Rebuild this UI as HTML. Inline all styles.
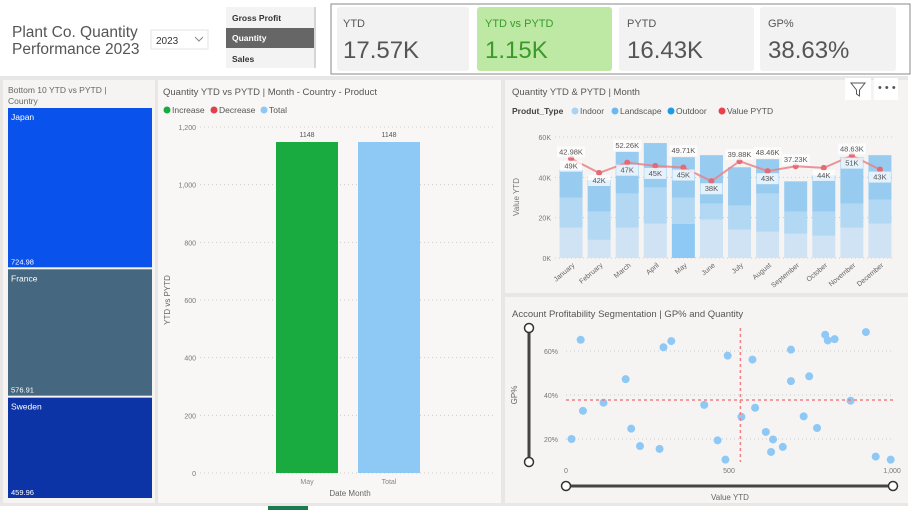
<!DOCTYPE html>
<html><head><meta charset="utf-8"><style>
body{margin:0;width:920px;height:510px;overflow:hidden;background:#fff;font-family:"Liberation Sans",sans-serif}
svg{display:block}
text{font-family:"Liberation Sans",sans-serif}
</style></head><body>
<svg id="s" width="920" height="510" viewBox="0 0 920 510">
<rect x="0" y="0" width="920" height="510" fill="#ffffff"/>
<rect x="0" y="76" width="908" height="430" fill="#e9e7e5"/>
<text x="12" y="37" font-size="15.5" fill="#555">Plant Co. Quantity</text>
<text x="12" y="54" font-size="15.5" fill="#555">Performance 2023</text>
<g>
<rect x="151" y="30" width="57" height="19" fill="#fff" stroke="#e3e3e3"/>
<text x="156" y="44" font-size="10" fill="#333">2023</text>
<path d="M195 37 l4 4 l4 -4" fill="none" stroke="#888"/>
</g>
<g>
<rect x="226" y="7" width="90" height="61" fill="#f3f3f3"/>
<line x1="315" y1="7" x2="315" y2="68" stroke="#ccc" stroke-width="1.5"/>
<text x="232" y="21" font-size="8.5" font-weight="bold" fill="#333">Gross Profit</text>
<rect x="226" y="28" width="88" height="20" fill="#666"/>
<text x="232" y="41" font-size="8.5" font-weight="bold" fill="#fff">Quantity</text>
<text x="232" y="62" font-size="8.5" font-weight="bold" fill="#333">Sales</text>
</g>
<g>
<rect x="331" y="4" width="579" height="70" fill="none" stroke="#888" stroke-width="1"/>
<rect x="337" y="7" width="132" height="64" rx="3" fill="#f2f2f2"/>
<text x="343" y="27" font-size="11" fill="#555">YTD</text>
<text x="343" y="58" font-size="24" fill="#555">17.57K</text>
<rect x="477" y="7" width="135" height="64" rx="3" fill="#bde9a5"/>
<text x="485" y="27" font-size="11" fill="#3a9a2a">YTD vs PYTD</text>
<text x="485" y="58" font-size="24" fill="#3a9a2a">1.15K</text>
<rect x="619" y="7" width="135" height="64" rx="3" fill="#f2f2f2"/>
<text x="627" y="27" font-size="11" fill="#555">PYTD</text>
<text x="627" y="58" font-size="24" fill="#555">16.43K</text>
<rect x="760" y="7" width="136" height="64" rx="3" fill="#f2f2f2"/>
<text x="768" y="27" font-size="11" fill="#555">GP%</text>
<text x="768" y="58" font-size="24" fill="#555">38.63%</text>
</g>
<!-- treemap panel -->
<rect x="3" y="80" width="152" height="423" fill="#f5f4f3"/>
<text x="8" y="93" font-size="8.5" fill="#666">Bottom 10 YTD vs PYTD |</text>
<text x="8" y="104" font-size="8.5" fill="#666">Country</text>
<g id="tree"></g>
<!-- waterfall panel -->
<rect x="158" y="80" width="343" height="423" fill="#f8f7f6"/>
<text x="163" y="95" font-size="9.5" fill="#555">Quantity YTD vs PYTD | Month - Country - Product</text>
<g font-size="8.5" fill="#555">
<circle cx="167" cy="110" r="3.5" fill="#1aab40"/><text x="172" y="113">Increase</text>
<circle cx="214" cy="110" r="3.5" fill="#e0404c"/><text x="219" y="113">Decrease</text>
<circle cx="264" cy="110" r="3.5" fill="#8ec8f5"/><text x="269" y="113">Total</text>
</g>
<g id="wf"></g>
<!-- combo panel -->
<rect x="505" y="80" width="403" height="213" fill="#f5f4f3"/>
<text x="512" y="95" font-size="9.5" fill="#555">Quantity YTD &amp; PYTD | Month</text>
<g><rect x="845" y="78" width="26" height="22" fill="#fff"/><path d="M851 83 h14 l-5.5 7 v6 l-3 -2 v-4 z" fill="none" stroke="#555"/></g>
<g><rect x="874" y="78" width="24" height="22" fill="#fff"/><text x="878" y="91" font-size="11" fill="#555">• • •</text></g>
<g font-size="8.5" fill="#555">
<text x="512" y="114" font-weight="bold" fill="#444">Produt_Type</text>
<circle cx="575" cy="111" r="3.5" fill="#a8d3f5"/><text x="580" y="114">Indoor</text>
<circle cx="615" cy="111" r="3.5" fill="#6bb9f0"/><text x="620" y="114">Landscape</text>
<circle cx="671" cy="111" r="3.5" fill="#1e9be8"/><text x="676" y="114">Outdoor</text>
<circle cx="722" cy="111" r="3.5" fill="#e8424c"/><text x="727" y="114">Value PYTD</text>
</g>
<g id="combo"></g>
<!-- scatter panel -->
<rect x="505" y="297" width="403" height="206" fill="#f5f4f3"/>
<text x="512" y="317" font-size="9.5" fill="#555">Account Profitability Segmentation | GP% and Quantity</text>
<g id="sc"></g>
<rect x="268" y="506" width="40" height="4" fill="#1b7a4e"/>
</svg>
<script>
const NS='http://www.w3.org/2000/svg';
function mk(p,t,a,txt){const e=document.createElementNS(NS,t);for(const k in a)e.setAttribute(k,a[k]);if(txt!==undefined)e.textContent=txt;p.appendChild(e);return e;}

// ---------- Treemap ----------
const treeCountries=['Japan','France','Sweden'];
const treeValues=[724.98,576.91,459.96];
const treeColors=['#0a52ec','#45677f','#0d34a6'];
{
const g=document.getElementById('tree');
const top=108,bottom=500,total=treeValues.reduce((a,b)=>a+b,0);
let y=top;
treeValues.forEach((v,i)=>{
  const h=(bottom-top)*v/total;
  const r=mk(g,'rect',{x:8,y:y,width:144,height:h-2,fill:treeColors[i]});
  
  
  const t=mk(g,'text',{x:11,y:y+12,'font-size':8.5,fill:'#fff'},treeCountries[i]);
  
  
  const t2=mk(g,'text',{x:11,y:y+h-5,'font-size':7.5,fill:'#fff'},treeValues[i].toFixed(2));
  
  
  y+=h;
});
}

// ---------- Waterfall ----------
const wfCategories=['May','Total'];
const wfValues=[1148,1148];
const wfColors=['#1aab40','#8ec8f5'];
const wfTicks=[0,200,400,600,800,1000,1200];
{
const g=document.getElementById('wf');
const y0=473,y1=127,max=1200,xL=200,xR=495;
const Y=v=>y0-(v/max)*(y0-y1);
wfTicks.forEach(t=>{
  mk(g,'line',{x1:xL,x2:xR,y1:Y(t),y2:Y(t),stroke:'#ccc','stroke-dasharray':'1 3'});
  const tx=mk(g,'text',{x:196,y:Y(t)+3,'font-size':7,fill:'#777','text-anchor':'end'},t.toLocaleString('en-US'));
  
  
});
const step=82,bw=62,start=276;
wfValues.forEach((v,i)=>{
  const x=start+i*step;
  const r=mk(g,'rect',{x:x,y:Y(v),width:bw,height:y0-Y(v),fill:wfColors[i]});
  
  
  mk(g,'text',{x:x+bw/2,y:Y(v)-5,'font-size':7,fill:'#555','text-anchor':'middle'},String(v));
  mk(g,'text',{x:x+bw/2,y:484,'font-size':7,fill:'#888','text-anchor':'middle'},wfCategories[i]);
});
const ax=mk(g,'text',{x:350,y:496,'font-size':8,fill:'#666','text-anchor':'middle'},'Date Month');


const ay=mk(g,'text',{x:0,y:0,'font-size':8,fill:'#666','text-anchor':'middle',transform:'translate(170,300) rotate(-90)'},'YTD vs PYTD');


}

// ---------- Combo chart ----------
const months=['January','February','March','April','May','June','July','August','September','October','November','December'];
const indoor=[15,9,15,17,17,19,14,13,12,11,15,17];
const landscape=[15,14,17,18,13,8,12,19,11,12,12,12];
const outdoor=[13.6,15.6,20.6,22,20,24,19,17,15,18,23,22];
const pytd=[49.3,42.2,47.3,45.7,44.9,38.1,48,43.1,45.5,44.7,50.8,43.9];
const upperLabels=['42.98K','','52.26K','','49.71K','','39.88K','48.46K','37.23K','','48.63K',''];
const barLabels=['49K','42K','47K','45K','45K','38K','','43K','','44K','51K','43K'];
const comboTicks=[0,20,40,60];
{
const g=document.getElementById('combo');
const y0=258,y1=137,max=60,xL=555,xR=895;
const Y=v=>y0-(v/max)*(y0-y1);
comboTicks.forEach(t=>{
  mk(g,'line',{x1:xL,x2:xR,y1:Y(t),y2:Y(t),stroke:'#ccc','stroke-dasharray':'1 3'});
  mk(g,'text',{x:xL-4,y:Y(t)+3,'font-size':7,fill:'#777','text-anchor':'end'},t+'K');
});
const ay=mk(g,'text',{x:0,y:0,'font-size':8,fill:'#777','text-anchor':'middle',transform:'translate(519,197) rotate(-90)'},'Value YTD');


const step=(894-557)/12,bw=23;
const X=i=>557+step*i+step/2;
const cols=['#cfe3f5','#b3d8f3','#98cbf0'];
months.forEach((m,i)=>{
  const segs=[indoor[i],landscape[i],outdoor[i]];
  let acc=0;
  segs.forEach((s,j)=>{
    const r=mk(g,'rect',{x:X(i)-bw/2,y:Y(acc+s),width:bw,height:Y(acc)-Y(acc+s),fill:(i===4&&j===0)?'#8ec8f5':cols[j]});
    
    
    acc+=s;
  });
  mk(g,'text',{x:0,y:0,'font-size':7,fill:'#666','text-anchor':'end',transform:`translate(${X(i)+4},${y0+8}) rotate(-40)`},m);
});
const pts=pytd.map((v,i)=>X(i)+','+Y(v)).join(' ');
const pl=mk(g,'polyline',{points:pts,fill:'none',stroke:'#e8828a','stroke-width':2,opacity:0.85});


pytd.forEach((v,i)=>{
  const c=mk(g,'circle',{cx:X(i),cy:Y(v),r:3,fill:'#e56a74'});
  
  
});
months.forEach((m,i)=>{
  const tot=indoor[i]+landscape[i]+outdoor[i];
  if(barLabels[i]){
    const y=Y(pytd[i]-5);
    mk(g,'rect',{x:X(i)-11,y:y-8,width:22,height:11,fill:'#fff',opacity:0.75});
    mk(g,'text',{x:X(i),y:y,'font-size':7.5,fill:'#555','text-anchor':'middle'},barLabels[i]);
  }
  if(upperLabels[i]){
    const y=Y(Math.max(tot,pytd[i])+2);
    mk(g,'rect',{x:X(i)-14,y:y-8,width:28,height:11,fill:'#fff',opacity:0.75});
    mk(g,'text',{x:X(i),y:y,'font-size':7.5,fill:'#555','text-anchor':'middle'},upperLabels[i]);
  }
});
}

// ---------- Scatter ----------
const scatterX=[45,17,52,115,183,200,227,287,299,323,424,465,489,496,538,572,580,613,629,635,665,690,690,729,746,770,795,803,824,873,920,950,996];
const scatterY=[65.1,20,32.8,36.5,47.2,24.7,16.8,15.5,61.7,64.5,35.5,19.4,10.6,57.9,30.1,56.1,34.2,23.2,14.1,19.8,16.4,60.6,46.3,30.3,48.5,25,67.4,64.8,65.4,37.4,68.6,12,10.6];
const refX=[535];
const refY=[37.7];
const scXTicks=[0,500,1000];
const scYTicks=[20,40,60];
{
const g=document.getElementById('sc');
const X=v=>566+v/1000*(892-566);
const Y=v=>439-(v-20)/40*(439-351);
scYTicks.forEach(t=>{
  mk(g,'line',{x1:566,x2:893,y1:Y(t),y2:Y(t),stroke:'#ccc','stroke-dasharray':'1 3'});
  mk(g,'text',{x:558,y:Y(t)+3,'font-size':7,fill:'#777','text-anchor':'end'},t+'%');
});
scXTicks.forEach(t=>{
  mk(g,'text',{x:X(t),y:473,'font-size':7,fill:'#777','text-anchor':'middle'},t.toLocaleString('en-US'));
});
const ax=mk(g,'text',{x:730,y:500,'font-size':8,fill:'#666','text-anchor':'middle'},'Value YTD');


const ay=mk(g,'text',{x:0,y:0,'font-size':8,fill:'#666','text-anchor':'middle',transform:'translate(517,395) rotate(-90)'},'GP%');


scatterX.forEach((v,i)=>{
  const c=mk(g,'circle',{cx:X(v),cy:Y(scatterY[i]),r:4,fill:'#8ec8f5'});
  
  
});
refX.forEach(v=>{
  const l=mk(g,'line',{x1:X(v),x2:X(v),y1:328,y2:462,stroke:'#f07f86','stroke-width':1.5,'stroke-dasharray':'3 3'});
  
  
});
refY.forEach(v=>{
  const l=mk(g,'line',{x1:566,x2:893,y1:Y(v),y2:Y(v),stroke:'#f07f86','stroke-width':1.5,'stroke-dasharray':'3 3'});
  
  
});
// zoom sliders
const ys=mk(g,'g',{});


mk(ys,'line',{x1:529,x2:529,y1:328,y2:462,stroke:'#444','stroke-width':3});
mk(ys,'circle',{cx:529,cy:328,r:4.5,fill:'#fff',stroke:'#333','stroke-width':1.5});
mk(ys,'circle',{cx:529,cy:462,r:4.5,fill:'#fff',stroke:'#333','stroke-width':1.5});
const xs=mk(g,'g',{});


mk(xs,'line',{x1:566,x2:893,y1:486,y2:486,stroke:'#444','stroke-width':3});
mk(xs,'circle',{cx:566,cy:486,r:4.5,fill:'#fff',stroke:'#333','stroke-width':1.5});
mk(xs,'circle',{cx:893,cy:486,r:4.5,fill:'#fff',stroke:'#333','stroke-width':1.5});
}
</script>
</body></html>
